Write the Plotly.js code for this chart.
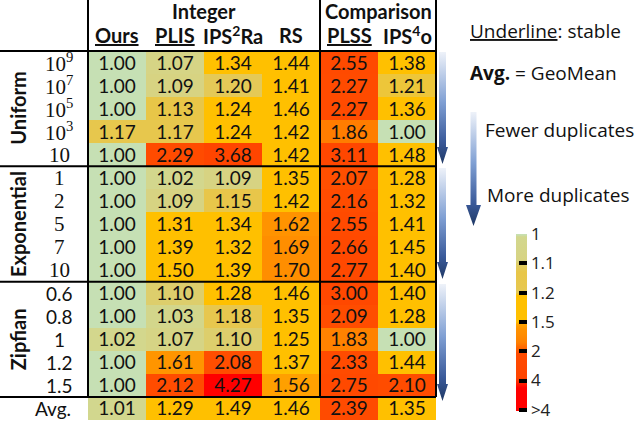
<!DOCTYPE html>
<html><head><meta charset="utf-8">
<script src="https://cdn.plot.ly/plotly-3.0.1.min.js"></script>
<style>html,body{margin:0;padding:0;background:#fff}#chart{width:640px;height:423px}</style>
</head><body><div id="chart"></div>
<script>
// ---------- data ----------
const columns = ['Ours','PLIS','IPS<sup>2</sup>Ra','RS','PLSS','IPS<sup>4</sup>o'];
const stable = [true, true, false, false, true, false];
const columnGroups = ['Integer', 'Comparison'];
const columnGroupSpan = [[0, 3], [4, 5]];
const groups = ['Uniform', 'Exponential', 'Zipfian'];
const rowLabels = ['10<sup>9</sup>','10<sup>7</sup>','10<sup>5</sup>','10<sup>3</sup>','10',
                   '1','2','5','7','10',
                   '0.6','0.8','1','1.2','1.5',
                   'Avg.'];
const ours   = [1.00,1.00,1.00,1.17,1.00, 1.00,1.00,1.00,1.00,1.00, 1.00,1.00,1.02,1.00,1.00, 1.01];
const plis   = [1.07,1.09,1.13,1.17,2.29, 1.02,1.09,1.31,1.39,1.50, 1.10,1.03,1.07,1.61,2.12, 1.29];
const ips2ra = [1.34,1.20,1.24,1.24,3.68, 1.09,1.15,1.34,1.32,1.39, 1.28,1.18,1.10,2.08,4.27, 1.49];
const rs     = [1.44,1.41,1.46,1.42,1.42, 1.35,1.42,1.62,1.69,1.70, 1.46,1.35,1.25,1.37,1.56, 1.46];
const plss   = [2.55,2.27,2.27,1.86,3.11, 2.07,2.16,2.55,2.66,2.77, 3.00,2.09,1.83,2.33,2.75, 2.39];
const ips4o  = [1.38,1.21,1.36,1.00,1.48, 1.28,1.32,1.41,1.45,1.40, 1.40,1.28,1.00,1.44,2.10, 1.35];
const scaleBreaks = [1, 1.1, 1.2, 1.5, 2, 4, 5];
const scaleLabels = ['1', '1.1', '1.2', '1.5', '2', '4', '&gt;4'];

// ---------- geometry helpers ----------
const W = 640, H = 423, L = 88, R = 204, T = 51, B = 3;
const PW = W - L - R, PH = H - T - B;
const px = p => (p - L) / PW;
const py = p => 1 - (p - T) / PH;
const nRows = rowLabels.length;

const series = [ours, plis, ips2ra, rs, plss, ips4o];
function idx(v) {
  for (let i = 0; i < scaleBreaks.length - 1; i++) {
    if (v <= scaleBreaks[i + 1]) return i + (v - scaleBreaks[i]) / (scaleBreaks[i + 1] - scaleBreaks[i]);
  }
  return scaleBreaks.length - 1;
}
const z = [], text = [];
for (let r = 0; r < nRows; r++) {
  z.push(series.map(s => -idx(s[r])));
  text.push(series.map(s => s[r].toFixed(2)));
}
const NMAX = scaleBreaks.length - 1;
const SPAN = NMAX + 0.04;
const stops = [
  [0.00, '#C6E0B4'], [0.03, '#C8DFB0'], [0.10, '#D2D78E'], [0.90, '#D7D382'], [1.00, '#DDCE6C'],
  [1.30, '#E8C648'], [1.80, '#E7C74E'], [2.00, '#E4C957'], [2.10, '#FFC000'], [3.00, '#FFC000'],
  [3.08, '#FFA400'], [3.25, '#FF9200'], [3.45, '#FF8C00'], [3.70, '#FF8000'], [4.00, '#FF5600'],
  [4.05, '#FF4C00'], [4.90, '#FF4400'], [5.00, '#FF3300'], [5.25, '#FF0000'], [SPAN, '#FF0000']
];
const colorscale = stops.map(([i, c]) => [1 - i / SPAN, c]).reverse();

const FONT = 'Lato, "Open Sans", sans-serif';
const SIDEFONT = '"Open Sans", "Noto Sans", sans-serif';

const heat = {
  type: 'heatmap',
  x: columns.map((c, i) => i),
  y: rowLabels.map((r, i) => i),
  z: z, text: text, texttemplate: '%{text}',
  textfont: {family: FONT, size: 19, color: '#111'},
  colorscale: colorscale, zmin: -SPAN, zmax: 0,
  hoverinfo: 'skip',
  colorbar: {
    xref: 'container', yref: 'paper',
    x: 516 / W, xanchor: 'left', xpad: 0,
    y: py(234), yanchor: 'top', ypad: 0,
    lenmode: 'pixels', len: 177, thicknessmode: 'pixels', thickness: 11,
    outlinewidth: 0,
    tickmode: 'array', tickvals: scaleLabels.map((s, i) => -i), ticktext: scaleLabels,
    ticks: 'inside', ticklen: 8, tickwidth: 4, tickcolor: '#000',
    ticklabeloverflow: 'allow',
    tickfont: {family: SIDEFONT, size: 17, color: '#222'}
  }
};

// ---------- annotations ----------
const ann = [];
columns.forEach((c, i) => ann.push({
  xref: 'x', yref: 'paper', x: i, y: py(35), xanchor: 'center', yanchor: 'middle', showarrow: false,
  text: stable[i] ? '<b><u>' + c + '</u></b>' : '<b>' + c + '</b>',
  font: {family: FONT, size: 20, color: '#111'}
}));
columnGroups.forEach((g, i) => ann.push({
  xref: 'x', yref: 'paper', x: (columnGroupSpan[i][0] + columnGroupSpan[i][1]) / 2, y: py(11),
  xanchor: 'center', yanchor: 'middle', showarrow: false,
  text: '<b>' + g + '</b>', font: {family: FONT, size: 20, color: '#111'}
}));
rowLabels.forEach((r, i) => {
  const serif = i < 10;
  ann.push({
    xref: 'paper', yref: 'y', x: i === nRows - 1 ? px(53) : px(59), y: i,
    xanchor: 'center', yanchor: 'middle', showarrow: false, text: r,
    font: {family: serif ? '"Liberation Serif", "DejaVu Serif", serif' : FONT, size: serif ? 21 : 19, color: '#111'}
  });
});
groups.forEach((g, i) => ann.push({
  xref: 'paper', yref: 'y', x: px(18), y: i * 5 + 2, xanchor: 'center', yanchor: 'middle',
  showarrow: false, textangle: -90, text: '<b>' + g + '</b>',
  font: {family: FONT, size: 20, color: '#111'}
}));
const side = [
  ['<u>Underline</u>: stable', 468, 31],
  ['<b>Avg.</b> = GeoMean', 468, 73],
  ['Fewer duplicates', 483, 130],
  ['More duplicates', 485, 195]
];
side.forEach(([t, x, y]) => ann.push({
  xref: 'paper', yref: 'paper', x: px(x), y: py(y), xanchor: 'left', yanchor: 'middle',
  showarrow: false, text: t, font: {family: SIDEFONT, size: 19, color: '#111'}
}));

// ---------- table rules ----------
const shapes = [];
const line = {color: '#000', width: 2};
[0, 5, 10, 15].forEach(k => shapes.push({
  type: 'line', xref: 'paper', yref: 'paper', x0: px(0), x1: 1, y0: 1 - k / nRows, y1: 1 - k / nRows, line: line
}));
[0, 4 / 6, 1].forEach(x => shapes.push({
  type: 'line', xref: 'paper', yref: 'paper', x0: x, x1: x, y0: py(0), y1: 1 - 15 / nRows, line: line
}));

// ---------- gradient arrows ----------
function arrowSvg(w, h, sw, hh) {
  const sx = (w - sw) / 2;
  const svg = `<svg xmlns="http://www.w3.org/2000/svg" width="${w}" height="${h}" viewBox="0 0 ${w} ${h}" preserveAspectRatio="none"><defs><linearGradient id="g" x1="0" y1="0" x2="0" y2="1"><stop offset="0" stop-color="#EEF2F9"/><stop offset="0.45" stop-color="#7F9FD3"/><stop offset="0.8" stop-color="#3A5A9A"/><stop offset="1" stop-color="#1F3864"/></linearGradient></defs><path d="M${sx},0 H${sx + sw} V${h - hh} H${w} L${w / 2},${h} L0,${h - hh} H${sx} Z" fill="url(#g)"/></svg>`;
  return 'data:image/svg+xml;charset=utf-8,' + encodeURIComponent(svg);
}
const arrows = [[437, 52, 11, 112, 7, 17], [437, 168, 11, 111, 7, 17], [437, 284, 11, 117, 7, 17], [466, 112, 15, 114, 6, 21]];
const images = arrows.map(([x, y, w, h, sw, hh]) => ({
  source: arrowSvg(w, h, sw, hh), xref: 'paper', yref: 'paper',
  x: px(x), y: py(y), sizex: w / PW, sizey: h / PH, xanchor: 'left', yanchor: 'top',
  sizing: 'stretch', layer: 'above'
}));

const layout = {
  width: W, height: H,
  margin: {l: L, r: R, t: T, b: B, pad: 0},
  paper_bgcolor: '#fff', plot_bgcolor: '#fff',
  xaxis: {range: [-0.5, 5.5], visible: false, fixedrange: true},
  yaxis: {range: [nRows - 0.5, -0.5], visible: false, fixedrange: true},
  annotations: ann, shapes: shapes, images: images,
  font: {family: FONT}
};
Plotly.newPlot('chart', [heat], layout, {displayModeBar: false, staticPlot: true});
</script>
</body></html>
